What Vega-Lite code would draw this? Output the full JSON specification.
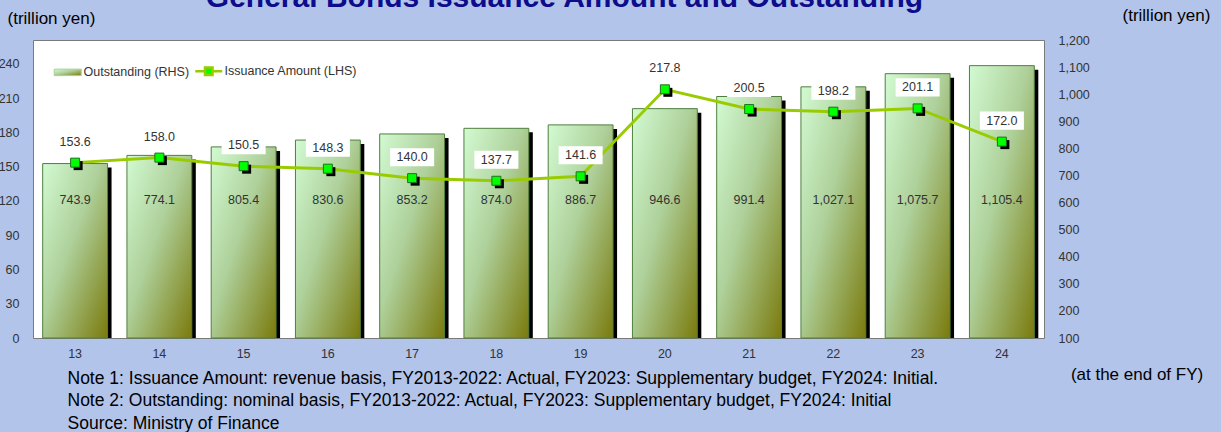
{
  "$schema": "https://vega.github.io/schema/vega-lite/v6.json",
  "width": 1011,
  "height": 298,
  "autosize": {"type": "none"},
  "padding": {"left": 33, "top": 40, "right": 177, "bottom": 94},
  "background": "#b2c4ea",
  "config": {
    "view": {"stroke": "#7a7a7a", "fill": "white", "strokeWidth": 1},
    "font": "Liberation Sans",
    "axis": {"labelFont": "Liberation Sans", "labelFontSize": 12.5, "labelColor": "#333333", "domain": false, "ticks": false, "grid": false, "labelOverlap": false}
  },
  "title": {
    "text": "General Bonds Issuance Amount and Outstanding",
    "font": "Liberation Sans",
    "fontSize": 30,
    "fontWeight": "bold",
    "color": "#0c0c8c",
    "anchor": "middle",
    "baseline": "alphabetic",
    "offset": -30,
    "dx": 26
  },
  "data": {
    "values": [
      {"fy": "13", "issuance": 153.6, "outstanding": 743.9},
      {"fy": "14", "issuance": 158.0, "outstanding": 774.1},
      {"fy": "15", "issuance": 150.5, "outstanding": 805.4},
      {"fy": "16", "issuance": 148.3, "outstanding": 830.6},
      {"fy": "17", "issuance": 140.0, "outstanding": 853.2},
      {"fy": "18", "issuance": 137.7, "outstanding": 874.0},
      {"fy": "19", "issuance": 141.6, "outstanding": 886.7},
      {"fy": "20", "issuance": 217.8, "outstanding": 946.6},
      {"fy": "21", "issuance": 200.5, "outstanding": 991.4},
      {"fy": "22", "issuance": 198.2, "outstanding": 1027.1},
      {"fy": "23", "issuance": 201.1, "outstanding": 1075.7},
      {"fy": "24", "issuance": 172.0, "outstanding": 1105.4}
    ]
  },
  "encoding": {
    "x": {
      "field": "fy",
      "type": "ordinal",
      "sort": null,
      "scale": {"paddingInner": 0.23, "paddingOuter": 0.115},
      "axis": {
        "labelAngle": 0,
        "labelPadding": 9,
        "title": [
          "Note 1: Issuance Amount: revenue basis, FY2013-2022: Actual, FY2023: Supplementary budget, FY2024: Initial.",
          "Note 2: Outstanding: nominal basis, FY2013-2022: Actual, FY2023: Supplementary budget, FY2024: Initial",
          "Source: Ministry of Finance"
        ],
        "titleFont": "Liberation Sans",
        "titleFontSize": 17.5,
        "titleFontWeight": "normal",
        "titleColor": "#000000",
        "titleAnchor": "start",
        "titleAlign": "left",
        "titleBaseline": "alphabetic",
        "titleX": 34,
        "titleY": 45,
        "titleLineHeight": 22.5
      }
    }
  },
  "layer": [
    {
      "layer": [
        {
          "mark": {"type": "bar", "color": "#000000", "xOffset": 4, "yOffset": 4, "clip": true},
          "encoding": {
            "y": {
              "field": "outstanding",
              "type": "quantitative",
              "scale": {"domain": [100, 1200], "nice": false, "zero": false},
              "axis": {"orient": "right", "values": [100, 200, 300, 400, 500, 600, 700, 800, 900, 1000, 1100, 1200], "format": ",d", "labelPadding": 14, "title": "(trillion yen)", "titleFont": "Liberation Sans", "titleFontSize": 17, "titleFontWeight": "normal", "titleColor": "#000000", "titleAngle": 0, "titleAlign": "left", "titleBaseline": "alphabetic", "titleX": 78, "titleY": -19.5}
            },
            "y2": {"datum": 100}
          }
        },
        {
          "mark": {
            "type": "bar",
            "stroke": "#4f7f3f",
            "strokeWidth": 1,
            "color": {
              "gradient": "linear",
              "x1": 0, "y1": 0, "x2": 1, "y2": 1,
              "stops": [
                {"offset": 0, "color": "#d2fad2"},
                {"offset": 0.45, "color": "#aed09a"},
                {"offset": 1, "color": "#7a7a0c"}
              ]
            }
          },
          "encoding": {
            "y": {
              "field": "outstanding",
              "type": "quantitative",
              "axis": {"orient": "right", "values": [100, 200, 300, 400, 500, 600, 700, 800, 900, 1000, 1100, 1200], "format": ",d", "labelPadding": 14, "title": "(trillion yen)", "titleFont": "Liberation Sans", "titleFontSize": 17, "titleFontWeight": "normal", "titleColor": "#000000", "titleAngle": 0, "titleAlign": "left", "titleBaseline": "alphabetic", "titleX": 78, "titleY": -19.5}
            },
            "y2": {"datum": 100}
          }
        },
        {
          "mark": {"type": "text", "font": "Liberation Sans", "fontSize": 12.5, "color": "#333333", "baseline": "middle"},
          "encoding": {
            "y": {
              "datum": 610,
              "axis": {"orient": "right", "values": [100, 200, 300, 400, 500, 600, 700, 800, 900, 1000, 1100, 1200], "format": ",d", "labelPadding": 14, "title": "(trillion yen)", "titleFont": "Liberation Sans", "titleFontSize": 17, "titleFontWeight": "normal", "titleColor": "#000000", "titleAngle": 0, "titleAlign": "left", "titleBaseline": "alphabetic", "titleX": 78, "titleY": -19.5}
            },
            "text": {"field": "outstanding", "type": "quantitative", "format": ",.1f"}
          }
        },
        {
          "data": {"values": [{"note": "(at the end of FY)", "fy": "24"}]},
          "mark": {"type": "text", "font": "Liberation Sans", "fontSize": 17, "color": "#000000", "align": "left", "baseline": "alphabetic", "dx": 69, "dy": 41.5},
          "encoding": {
            "y": {
              "datum": 100,
              "axis": {"orient": "right", "values": [100, 200, 300, 400, 500, 600, 700, 800, 900, 1000, 1100, 1200], "format": ",d", "labelPadding": 14, "title": "(trillion yen)", "titleFont": "Liberation Sans", "titleFontSize": 17, "titleFontWeight": "normal", "titleColor": "#000000", "titleAngle": 0, "titleAlign": "left", "titleBaseline": "alphabetic", "titleX": 78, "titleY": -19.5}
            },
            "text": {"field": "note"}
          }
        }
      ]
    },
    {
      "layer": [
        {
          "mark": {"type": "line", "strokeWidth": 3},
          "encoding": {
            "y": {
              "field": "issuance",
              "type": "quantitative",
              "scale": {"domain": [0, 261], "nice": false},
              "axis": {"orient": "left", "values": [0, 30, 60, 90, 120, 150, 180, 210, 240], "format": "d", "labelPadding": 14, "title": "(trillion yen)", "titleFont": "Liberation Sans", "titleFontSize": 17, "titleFontWeight": "normal", "titleColor": "#000000", "titleAngle": 0, "titleAlign": "left", "titleBaseline": "alphabetic", "titleX": -26, "titleY": -16.5}
            },
            "color": {
              "datum": "Issuance Amount (LHS)",
              "scale": {"domain": ["Outstanding (RHS)", "Issuance Amount (LHS)"], "range": ["#a8d098", "#99cc00"]},
              "legend": {
                "orient": "none",
                "legendX": 28.5,
                "legendY": 24.5,
                "direction": "horizontal",
                "title": null,
                "padding": 0,
                "labelFont": "Liberation Sans",
                "labelFontSize": 12.5,
                "labelColor": "#333333",
                "symbolType": "M-1,-0.24H1V0.24H-1Z",
                "labelOffset": 9.5,
                "columnPadding": 0,
                "encode": {
                  "symbols": {
                    "update": {
                      "shape": {"signal": "datum.value === 'Outstanding (RHS)' ? 'M-1,-0.24H1V0.24H-1Z' : 'M-1,0H-0.28M0.28,0H1M-0.28,-0.28H0.28V0.28H-0.28Z'"},
                      "fill": {"signal": "datum.value === 'Outstanding (RHS)' ? {gradient: 'linear', x1: 0, y1: 0, x2: 1, y2: 1, stops: [{offset: 0, color: '#d2fad2'}, {offset: 0.45, color: '#aed09a'}, {offset: 1, color: '#7a7a0c'}]} : '#00ff00'"},
                      "stroke": {"signal": "datum.value === 'Outstanding (RHS)' ? '#4f7f3f' : '#99cc00'"},
                      "strokeWidth": {"signal": "datum.value === 'Outstanding (RHS)' ? 1 : 2.5"},
                      "opacity": {"value": 1},
                      "fillOpacity": {"value": 1},
                      "size": {"value": 729}
                    }
                  }
                }
              }
            }
          }
        },
        {
          "mark": {"type": "point", "shape": "square", "filled": true, "color": "#000000", "size": 81, "opacity": 1, "xOffset": 3, "yOffset": 3},
          "encoding": {
            "y": {
              "field": "issuance",
              "type": "quantitative",
              "axis": {"orient": "left", "values": [0, 30, 60, 90, 120, 150, 180, 210, 240], "format": "d", "labelPadding": 14, "title": "(trillion yen)", "titleFont": "Liberation Sans", "titleFontSize": 17, "titleFontWeight": "normal", "titleColor": "#000000", "titleAngle": 0, "titleAlign": "left", "titleBaseline": "alphabetic", "titleX": -26, "titleY": -16.5}
            }
          }
        },
        {
          "mark": {"type": "point", "shape": "square", "filled": true, "color": "#00ff00", "size": 81, "opacity": 1, "stroke": "#1f6f1f", "strokeWidth": 1},
          "encoding": {
            "y": {
              "field": "issuance",
              "type": "quantitative",
              "axis": {"orient": "left", "values": [0, 30, 60, 90, 120, 150, 180, 210, 240], "format": "d", "labelPadding": 14, "title": "(trillion yen)", "titleFont": "Liberation Sans", "titleFontSize": 17, "titleFontWeight": "normal", "titleColor": "#000000", "titleAngle": 0, "titleAlign": "left", "titleBaseline": "alphabetic", "titleX": -26, "titleY": -16.5}
            }
          }
        },
        {
          "mark": {"type": "point", "shape": "M-1,-0.41H1V0.41H-1Z", "filled": true, "color": "#ffffff", "size": 1936, "opacity": 1, "strokeWidth": 0, "yOffset": -21},
          "encoding": {
            "y": {
              "field": "issuance",
              "type": "quantitative",
              "axis": {"orient": "left", "values": [0, 30, 60, 90, 120, 150, 180, 210, 240], "format": "d", "labelPadding": 14, "title": "(trillion yen)", "titleFont": "Liberation Sans", "titleFontSize": 17, "titleFontWeight": "normal", "titleColor": "#000000", "titleAngle": 0, "titleAlign": "left", "titleBaseline": "alphabetic", "titleX": -26, "titleY": -16.5}
            }
          }
        },
        {
          "mark": {"type": "text", "font": "Liberation Sans", "fontSize": 12.5, "color": "#333333", "baseline": "middle", "dy": -21},
          "encoding": {
            "y": {
              "field": "issuance",
              "type": "quantitative",
              "axis": {"orient": "left", "values": [0, 30, 60, 90, 120, 150, 180, 210, 240], "format": "d", "labelPadding": 14, "title": "(trillion yen)", "titleFont": "Liberation Sans", "titleFontSize": 17, "titleFontWeight": "normal", "titleColor": "#000000", "titleAngle": 0, "titleAlign": "left", "titleBaseline": "alphabetic", "titleX": -26, "titleY": -16.5}
            },
            "text": {"field": "issuance", "type": "quantitative", "format": ".1f"}
          }
        }
      ]
    }
  ],
  "resolve": {"scale": {"y": "independent"}}
}
